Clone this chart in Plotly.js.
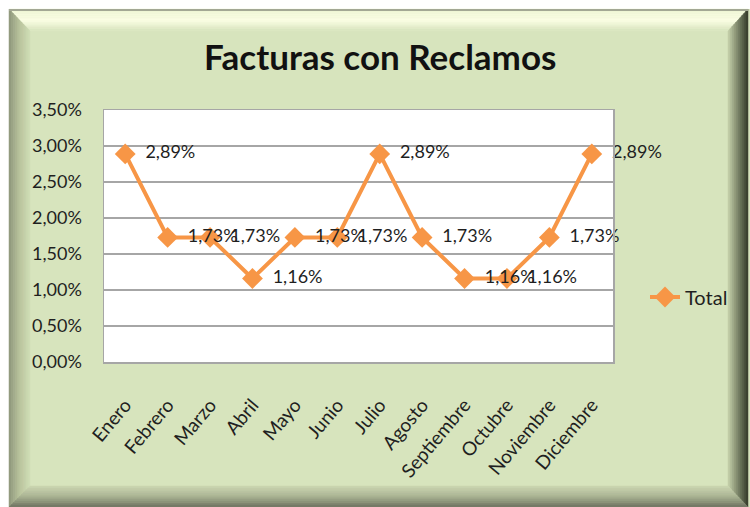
<!DOCTYPE html>
<html>
<head>
<meta charset="utf-8">
<script src="https://cdn.plot.ly/plotly-3.0.1.min.js"></script>
<style>html,body{margin:0;padding:0;background:#fff;}#chart{width:750px;height:507px;}</style>
</head>
<body>
<div id="chart"></div>
<script>
const months = ["Enero","Febrero","Marzo","Abril","Mayo","Junio","Julio","Agosto","Septiembre","Octubre","Noviembre","Diciembre"];
const totalValues = [0.0289,0.0173,0.0173,0.0116,0.0173,0.0173,0.0289,0.0173,0.0116,0.0116,0.0173,0.0289];
const seriesName = "Total";
const chartTitle = "Facturas con Reclamos";

const W = 750, H = 507;
const M = {l:104, r:137, t:110, b:145};
const PW = W - M.l - M.r, PH = H - M.t - M.b;
const px = x => (x - M.l) / PW;
const py = y => (H - M.b - y) / PH;

// frame bevel shapes (decoration only)
const inner = [30,31,728,486], outer = [9,9,748,507];
function rectAt(t){ return inner.map((v,i)=> v + (outer[i]-v)*t); }
function hex(c){return [parseInt(c.slice(1,3),16),parseInt(c.slice(3,5),16),parseInt(c.slice(5,7),16)];}
function mix(a,b,t){const A=hex(a),B=hex(b);return 'rgb('+A.map((v,i)=>Math.round(v+(B[i]-v)*t)).join(',')+')';}
function poly(pts){return 'M'+pts.map(p=>px(p[0])+','+py(p[1])).join(' L')+' Z';}
const shapes = [];
shapes.push({type:'rect',xref:'paper',yref:'paper',x0:px(0),x1:px(W),y0:py(0),y1:py(9),fillcolor:'#ffffff',line:{width:0},layer:'below'});
shapes.push({type:'rect',xref:'paper',yref:'paper',x0:px(0),x1:px(9),y0:py(0),y1:py(H),fillcolor:'#ffffff',line:{width:0},layer:'below'});
const sides = {
  top:    ['#d7e4bd','#fbfee4','#eef5d6'],
  left:   ['#d2dfb8','#b8c39c','#8f977c'],
  right:  ['#c9d4ad','#7d866a','#353b2b'],
  bottom: ['#cdd8b2','#a9b292','#6f7562']
};
const N = 10;
for (const side in sides){
  const cols = sides[side];
  for (let i=0;i<N;i++){
    const t0=i/N, t1=(i+1)/N;
    const R0=rectAt(t0), R1=rectAt(t1);
    const f = (i+0.5)/N;
    const col = f<0.5 ? mix(cols[0],cols[1],f*2) : mix(cols[1],cols[2],(f-0.5)*2);
    let pts;
    if(side==='top') pts=[[R0[0],R0[1]],[R0[2],R0[1]],[R1[2],R1[1]],[R1[0],R1[1]]];
    if(side==='bottom') pts=[[R0[0],R0[3]],[R0[2],R0[3]],[R1[2],R1[3]],[R1[0],R1[3]]];
    if(side==='left') pts=[[R0[0],R0[1]],[R0[0],R0[3]],[R1[0],R1[3]],[R1[0],R1[1]]];
    if(side==='right') pts=[[R0[2],R0[1]],[R0[2],R0[3]],[R1[2],R1[3]],[R1[2],R1[1]]];
    shapes.push({type:'path',xref:'paper',yref:'paper',path:poly(pts),fillcolor:col,line:{width:0.5,color:col},layer:'below'});
  }
}
shapes.push({type:'rect',xref:'paper',yref:'paper',x0:px(9),x1:px(748),y0:py(9),y1:py(11),fillcolor:'#a3a894',line:{width:0},layer:'below'});

const FONT = 'Lato, "Open Sans", sans-serif';
const NB = '\u00a0\u00a0';

const trace = {
  x: months, y: totalValues, name: seriesName, type:'scatter', mode:'lines+markers+text',
  line:{color:'#f79646', width:4},
  marker:{symbol:'diamond', size:16, color:'#f79646'},
  texttemplate: NB + '%{y:.2%}', textposition:'middle right',
  textfont:{family:FONT, size:18, color:'#1f1f1f'},
  cliponaxis:false
};

const layout = {
  width:W, height:H, margin:M,
  separators:',.',
  paper_bgcolor:'#d7e4bd', plot_bgcolor:'#ffffff',
  title:{text:chartTitle, font:{family:FONT, size:35, color:'#111111', weight:'bold'}, x:0.507, xref:'container', xanchor:'center', y:1-58/507, yref:'container', yanchor:'middle'},
  xaxis:{type:'category', range:[-0.5,11.5], tickangle:-50, tickfont:{family:FONT,size:19,color:'#1f1f1f'},
    showline:true, linecolor:'#a6a6a6', linewidth:1.5, mirror:true, showgrid:false, ticks:'', ticklabelstandoff:23, fixedrange:true},
  yaxis:{range:[0,0.035], dtick:0.005, tickformat:'.2%', tickfont:{family:FONT,size:18,color:'#1f1f1f'},
    showline:true, linecolor:'#a6a6a6', linewidth:1.5, mirror:true, showgrid:true, gridcolor:'#a6a6a6', gridwidth:1.5,
    zeroline:false, ticks:'', ticklabelstandoff:17, fixedrange:true},
  showlegend:true,
  legend:{x:px(645), y:py(297), xanchor:'left', yanchor:'middle', bgcolor:'rgba(0,0,0,0)', font:{family:FONT,size:20,color:'#1f1f1f'}},
  shapes:shapes
};

Plotly.newPlot('chart',[trace],layout,{displayModeBar:false, staticPlot:true});
</script>
</body>
</html>
